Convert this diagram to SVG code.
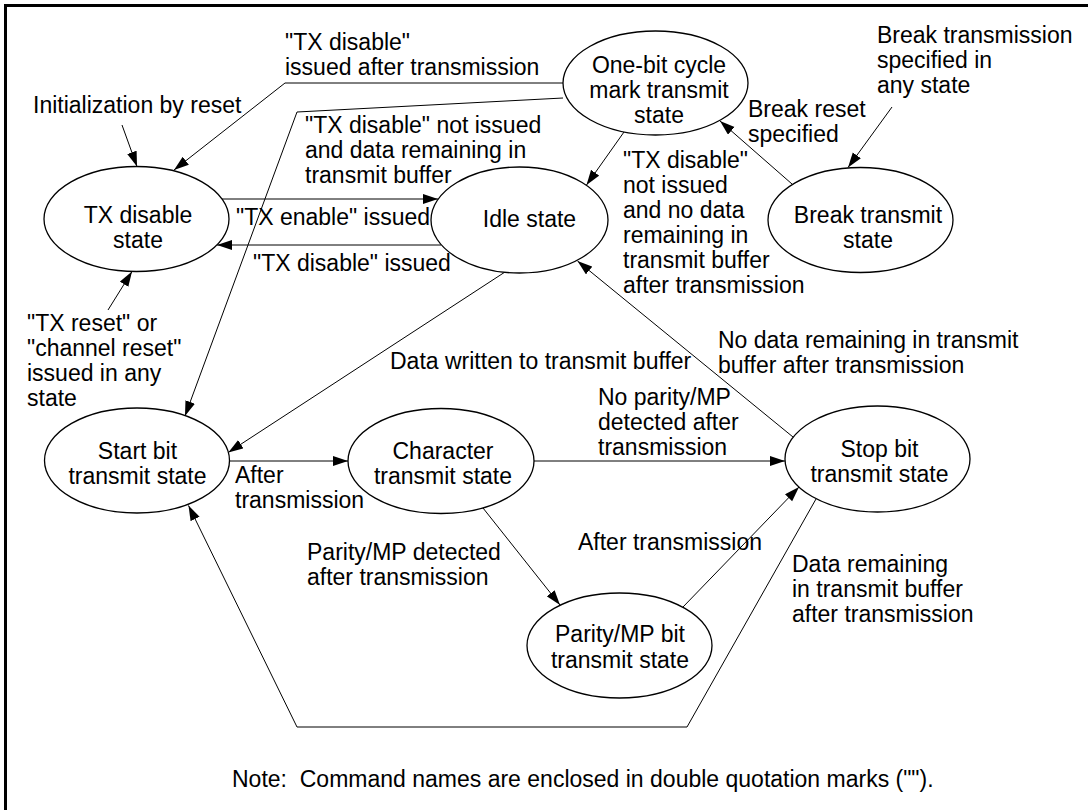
<svg xmlns="http://www.w3.org/2000/svg" width="1088" height="810" viewBox="0 0 1088 810">
<defs>
<marker id="arr" markerUnits="userSpaceOnUse" markerWidth="16" markerHeight="11" refX="15" refY="5" orient="auto">
<path d="M0,0 L15,5 L0,10 z" fill="#000"/>
</marker>
<style>
text{font-family:"Liberation Sans",Arial,sans-serif;font-size:23px;fill:#000}
.n text{text-anchor:middle}
ellipse{fill:#fff;stroke:#000;stroke-width:1.3}
.c path{fill:none;stroke:#000;stroke-width:1;marker-end:url(#arr)}
</style>
</defs>
<rect width="1088" height="810" fill="#fff"/>
<path d="M5.5,815 V5.5 H1095" fill="none" stroke="#000" stroke-width="3"/>

<g id="connectors" class="c">
<path d="M122,125 L137,166.5"/>
<path d="M108,310 L132,271.5"/>
<path d="M563,83 H285 L174,170"/>
<path d="M563,98 L297,112 L185,416"/>
<path d="M222,199 H438"/>
<path d="M441,245 H217"/>
<path d="M624,132 L586.5,185"/>
<path d="M792,184 L720,121"/>
<path d="M892,107 L848,167.5"/>
<path d="M793,437 L577.5,261"/>
<path d="M505,272 L228.3,452.4"/>
<path d="M229.5,461 H348"/>
<path d="M534,461 H785"/>
<path d="M483,508 L560,605"/>
<path d="M683,607 L799,487"/>
<path d="M816,499 L687,727 H297 L188.5,505.5"/>
</g>

<g id="tx-disable" class="n"><ellipse cx="136.5" cy="219" rx="92.5" ry="52.5"/><text x="138" y="223">TX disable</text><text x="138" y="248">state</text></g>
<g id="idle" class="n"><ellipse cx="519.5" cy="220" rx="88.5" ry="53"/><text x="529.5" y="227">Idle state</text></g>
<g id="one-bit" class="n"><ellipse cx="655.5" cy="83" rx="92.5" ry="52"/><text x="659" y="73">One-bit cycle</text><text x="659" y="98">mark transmit</text><text x="659" y="123">state</text></g>
<g id="break" class="n"><ellipse cx="860.5" cy="220" rx="92.5" ry="52.5"/><text x="868" y="223">Break transmit</text><text x="868" y="248">state</text></g>
<g id="start-bit" class="n"><ellipse cx="137" cy="460.5" rx="92.5" ry="52.5"/><text x="137.5" y="459">Start bit</text><text x="137.5" y="484">transmit state</text></g>
<g id="character" class="n"><ellipse cx="441" cy="461" rx="93" ry="52.5"/><text x="443" y="459">Character</text><text x="443" y="484">transmit state</text></g>
<g id="stop-bit" class="n"><ellipse cx="877.5" cy="459" rx="92.5" ry="53"/><text x="879.5" y="457">Stop bit</text><text x="879.5" y="482">transmit state</text></g>
<g id="parity" class="n"><ellipse cx="619.5" cy="645.5" rx="92.5" ry="52.5"/><text x="620" y="642">Parity/MP bit</text><text x="620" y="668">transmit state</text></g>

<g id="labels">
<text x="33" y="113">Initialization by reset</text>
<text x="285" y="50">"TX disable"</text>
<text x="285" y="75">issued after transmission</text>
<text x="305" y="133">"TX disable" not issued</text>
<text x="305" y="158">and data remaining in</text>
<text x="305" y="183">transmit buffer</text>
<text x="236" y="225">"TX enable" issued</text>
<text x="253" y="271">"TX disable" issued</text>
<text x="27" y="331">"TX reset" or</text>
<text x="27" y="356">"channel reset"</text>
<text x="27" y="381">issued in any</text>
<text x="27" y="406">state</text>
<text x="877" y="43">Break transmission</text>
<text x="877" y="68">specified in</text>
<text x="877" y="93">any state</text>
<text x="748" y="117">Break reset</text>
<text x="748" y="142">specified</text>
<text x="623" y="168">"TX disable"</text>
<text x="623" y="193">not issued</text>
<text x="623" y="218">and no data</text>
<text x="623" y="243">remaining in</text>
<text x="623" y="268">transmit buffer</text>
<text x="623" y="293">after transmission</text>
<text x="718" y="348">No data remaining in transmit</text>
<text x="718" y="373">buffer after transmission</text>
<text x="390" y="369">Data written to transmit buffer</text>
<text x="598" y="405">No parity/MP</text>
<text x="598" y="430">detected after</text>
<text x="598" y="455">transmission</text>
<text x="235" y="483">After</text>
<text x="235" y="508">transmission</text>
<text x="307" y="560">Parity/MP detected</text>
<text x="307" y="585">after transmission</text>
<text x="578" y="550">After transmission</text>
<text x="792" y="572">Data remaining</text>
<text x="792" y="597">in transmit buffer</text>
<text x="792" y="622">after transmission</text>
<text x="232" y="787">Note:&#160; Command names are enclosed in double quotation marks ("").</text>
</g>
</svg>
